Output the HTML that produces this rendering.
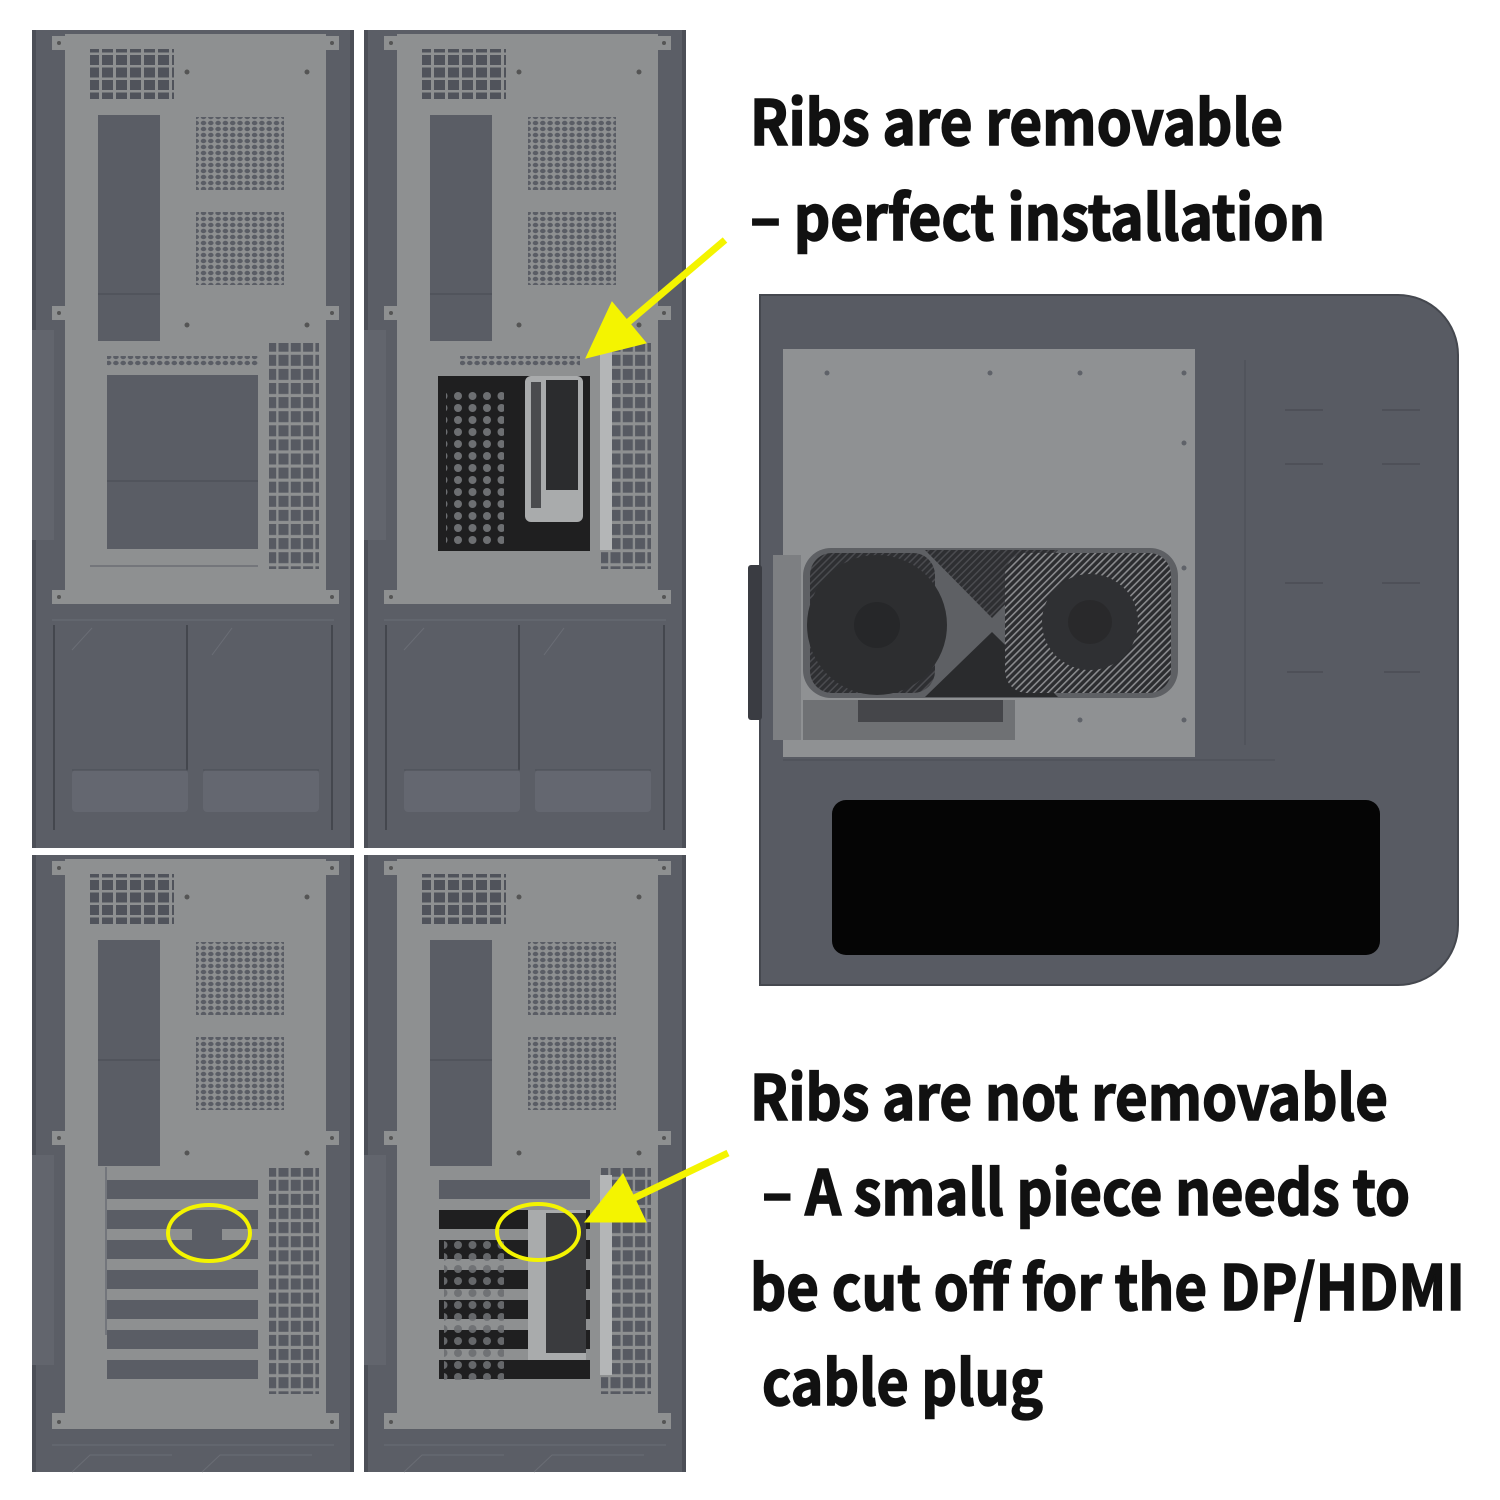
<!DOCTYPE html>
<html><head><meta charset="utf-8"><style>
html,body{margin:0;padding:0;background:#fff;}
svg{display:block}
.t{font-family:"Noto Sans CJK SC","Liberation Sans",sans-serif;font-weight:700;font-size:62px;fill:#111;stroke:#111;stroke-width:1.6px;}
</style></head><body>
<svg width="1500" height="1500" viewBox="0 0 1500 1500" xmlns="http://www.w3.org/2000/svg">
<defs>
  <pattern id="vent" x="0" y="0" width="14" height="12.5" patternUnits="userSpaceOnUse">
    <rect x="0" y="0" width="11" height="10" fill="#50535b"/>
  </pattern>
  <pattern id="holes" x="0" y="0" width="7.3" height="6" patternUnits="userSpaceOnUse">
    <ellipse cx="3.6" cy="3" rx="2.8" ry="2.2" fill="#5a5d65"/>
  </pattern>
  <pattern id="sq" x="0" y="0" width="12.3" height="14.1" patternUnits="userSpaceOnUse">
    <rect x="0.5" y="0.5" width="10" height="11" fill="#575a62"/>
  </pattern>
  <pattern id="gpuholes" x="0" y="0" width="14.5" height="12" patternUnits="userSpaceOnUse">
    <circle cx="7" cy="6" r="4" fill="#6d6f72"/>
  </pattern>
  <pattern id="hatch" width="5" height="5" patternUnits="userSpaceOnUse" patternTransform="rotate(45)">
    <rect width="5" height="5" fill="#2c2d30"/><rect width="1.6" height="5" fill="#8a8b8e"/>
  </pattern>
  <pattern id="hatchd" width="5" height="5" patternUnits="userSpaceOnUse" patternTransform="rotate(45)">
    <rect width="5" height="5" fill="#2e2f32"/><rect width="1.5" height="5" fill="#4a4b4f"/>
  </pattern>

  <g id="plateTop">
    <rect x="0" y="0" width="322" height="818" fill="#5b5e66"/>
    <rect x="0" y="0" width="4" height="818" fill="#4c4f57"/>
    <rect x="318" y="0" width="4" height="818" fill="#4c4f57"/>
    <rect x="0" y="300" width="22" height="210" fill="#62656d"/>
    <rect x="33" y="4" width="261" height="569" fill="#8e9091"/>
    <rect x="20" y="6" width="287" height="14" fill="#8e9091"/>
    <rect x="20" y="276" width="287" height="14" fill="#8e9091"/>
    <rect x="20" y="560" width="287" height="14" fill="#8e9091"/>
    <circle cx="27" cy="13" r="2" fill="#555"/><circle cx="300" cy="13" r="2" fill="#555"/>
    <circle cx="27" cy="283" r="2" fill="#555"/><circle cx="300" cy="283" r="2" fill="#555"/>
    <circle cx="27" cy="567" r="2" fill="#555"/><circle cx="300" cy="567" r="2" fill="#555"/>
    <circle cx="155" cy="42" r="2.5" fill="#555"/><circle cx="275" cy="42" r="2.5" fill="#555"/>
    <circle cx="155" cy="295" r="2.5" fill="#555"/><circle cx="275" cy="295" r="2.5" fill="#555"/>
    <rect x="58" y="19" width="84" height="50" fill="url(#vent)"/>
    <rect x="66" y="85" width="62" height="226" fill="#5a5d65"/>
    <line x1="66" y1="264" x2="128" y2="264" stroke="#484b52"/>
    <rect x="164" y="87" width="88" height="73" fill="url(#holes)"/>
    <rect x="164" y="182" width="88" height="73" fill="url(#holes)"/>
  </g>
  <g id="lowerTop">
    <line x1="20" y1="590" x2="302" y2="590" stroke="#6a6d75"/>
    <line x1="22" y1="595" x2="22" y2="800" stroke="#44474e" stroke-width="2"/>
    <line x1="300" y1="595" x2="300" y2="800" stroke="#44474e" stroke-width="2"/>
    <line x1="155" y1="595" x2="155" y2="740" stroke="#44474e" stroke-width="2"/>
    <path d="M40 620 L60 598 M180 625 L200 598" stroke="#6a6d75"/>
    <rect x="40" y="740" width="116" height="42" rx="4" fill="#646770"/>
    <rect x="171" y="740" width="116" height="42" rx="4" fill="#646770"/>
    <line x1="40" y1="740" x2="156" y2="740" stroke="#4a4d55"/>
    <line x1="171" y1="740" x2="287" y2="740" stroke="#4a4d55"/>
  </g>
  <g id="plateBot">
    <rect x="0" y="0" width="322" height="617" fill="#5b5e66"/>
    <rect x="0" y="0" width="4" height="617" fill="#4c4f57"/>
    <rect x="318" y="0" width="4" height="617" fill="#4c4f57"/>
    <rect x="0" y="300" width="22" height="210" fill="#62656d"/>
    <rect x="33" y="4" width="261" height="569" fill="#8e9091"/>
    <rect x="20" y="6" width="287" height="14" fill="#8e9091"/>
    <rect x="20" y="276" width="287" height="14" fill="#8e9091"/>
    <rect x="20" y="558" width="287" height="16" fill="#8e9091"/>
    <circle cx="27" cy="13" r="2" fill="#555"/><circle cx="300" cy="13" r="2" fill="#555"/>
    <circle cx="27" cy="283" r="2" fill="#555"/><circle cx="300" cy="283" r="2" fill="#555"/>
    <circle cx="27" cy="567" r="2" fill="#555"/><circle cx="300" cy="567" r="2" fill="#555"/>
    <circle cx="155" cy="42" r="2.5" fill="#555"/><circle cx="275" cy="42" r="2.5" fill="#555"/>
    <circle cx="155" cy="298" r="2.5" fill="#555"/><circle cx="275" cy="298" r="2.5" fill="#555"/>
    <rect x="58" y="19" width="84" height="50" fill="url(#vent)"/>
    <rect x="66" y="85" width="62" height="226" fill="#5a5d65"/>
    <line x1="66" y1="205" x2="128" y2="205" stroke="#484b52"/>
    <rect x="164" y="87" width="88" height="73" fill="url(#holes)"/>
    <rect x="164" y="182" width="88" height="73" fill="url(#holes)"/>
    <rect x="237" y="313" width="50" height="226" fill="url(#sq)"/>
    <line x1="20" y1="590" x2="302" y2="590" stroke="#6a6d75"/>
    <path d="M40 617 L58 600 H140 M170 617 L188 600 H280" stroke="#6a6d75" fill="none"/>
  </g>
</defs>

<g transform="translate(32,30)">
  <use href="#plateTop"/>
  <use href="#lowerTop"/>
  <rect x="75" y="326" width="152" height="10" fill="url(#holes)"/>
  <rect x="75" y="345" width="151" height="174" fill="#5a5d65"/>
  <line x1="75" y1="451" x2="226" y2="451" stroke="#484b52"/>
  <line x1="58" y1="536" x2="226" y2="536" stroke="#5a5d65"/>
  <rect x="237" y="313" width="50" height="226" fill="url(#sq)"/>
</g>

<g transform="translate(364,30)">
  <use href="#plateTop"/>
  <use href="#lowerTop"/>
  <rect x="96" y="326" width="120" height="10" fill="url(#holes)"/>
  <rect x="74" y="346" width="152" height="175" fill="#1f1f20"/>
  <rect x="82" y="360" width="58" height="156" fill="url(#gpuholes)"/>
  <rect x="161" y="346" width="58" height="146" rx="6" fill="#a9abac"/>
  <rect x="182" y="350" width="32" height="110" fill="#2b2c2e"/>
  <rect x="167" y="352" width="10" height="126" fill="#4a4b4e"/>
  <rect x="237" y="313" width="50" height="226" fill="url(#sq)"/>
  <rect x="236" y="320" width="12" height="200" fill="#b4b6b7"/>
</g>

<g transform="translate(32,855)">
  <use href="#plateBot"/>
  <line x1="74" y1="312" x2="74" y2="480" stroke="#6a6d75" stroke-width="1.5"/>
  <rect x="75" y="325" width="151" height="19" fill="#5a5d65"/>
  <rect x="75" y="355" width="151" height="19" fill="#5a5d65"/>
  <rect x="75" y="385" width="151" height="19" fill="#5a5d65"/>
  <rect x="160" y="374" width="30" height="11" fill="#5a5d65"/>
  <rect x="75" y="415" width="151" height="19" fill="#5a5d65"/>
  <rect x="75" y="445" width="151" height="19" fill="#5a5d65"/>
  <rect x="75" y="475" width="151" height="19" fill="#5a5d65"/>
  <rect x="75" y="505" width="151" height="19" fill="#5a5d65"/>
</g>

<g transform="translate(364,855)">
  <use href="#plateBot"/>
  <rect x="75" y="325" width="151" height="19" fill="#5a5d65"/>
  <rect x="75" y="355" width="151" height="19" fill="#1f1f20"/>
  <rect x="75" y="385" width="151" height="19" fill="#1f1f20"/>
  <rect x="75" y="415" width="151" height="19" fill="#1f1f20"/>
  <rect x="75" y="445" width="151" height="19" fill="#1f1f20"/>
  <rect x="75" y="475" width="151" height="19" fill="#1f1f20"/>
  <rect x="75" y="505" width="151" height="19" fill="#1f1f20"/>
  <rect x="80" y="385" width="60" height="140" fill="url(#gpuholes)" opacity="0.9"/>
  <rect x="164" y="355" width="58" height="150" fill="#a9abac"/>
  <rect x="182" y="358" width="40" height="140" fill="#3a3b3e"/>
  <rect x="236" y="320" width="12" height="200" fill="#b4b6b7"/>
</g>

<path d="M760 295 H1398 A60 60 0 0 1 1458 355 V925 A60 60 0 0 1 1398 985 H760 Z" fill="#585b63" stroke="#45484f" stroke-width="2"/>
<rect x="748" y="565" width="14" height="155" rx="3" fill="#3a3c42"/>
<rect x="783" y="349" width="412" height="408" fill="#8f9193"/>
<line x1="783" y1="760" x2="1275" y2="760" stroke="#4a4d55"/>
<line x1="1245" y1="360" x2="1245" y2="745" stroke="#4a4d55"/>
<g fill="#5f6269">
  <circle cx="827" cy="373" r="2.5"/><circle cx="990" cy="373" r="2.5"/><circle cx="1080" cy="373" r="2.5"/><circle cx="1184" cy="373" r="2.5"/>
  <circle cx="1184" cy="443" r="2.5"/><circle cx="1184" cy="568" r="2.5"/><circle cx="1080" cy="720" r="2.5"/><circle cx="1184" cy="720" r="2.5"/>
</g>
<g stroke="#4a4d55" stroke-width="1.5">
  <line x1="1285" y1="410" x2="1323" y2="410"/><line x1="1382" y1="410" x2="1420" y2="410"/>
  <line x1="1285" y1="464" x2="1323" y2="464"/><line x1="1382" y1="464" x2="1420" y2="464"/>
  <line x1="1285" y1="583" x2="1323" y2="583"/><line x1="1382" y1="583" x2="1420" y2="583"/>
  <line x1="1287" y1="672" x2="1323" y2="672"/><line x1="1384" y1="672" x2="1420" y2="672"/>
</g>
<rect x="832" y="800" width="548" height="155" rx="14" fill="#050505"/>

<rect x="773" y="555" width="28" height="185" fill="#7d7f82"/>
<rect x="803" y="700" width="212" height="40" fill="#6f7174"/>
<rect x="858" y="700" width="145" height="22" fill="#45464a"/>
<rect x="803" y="548" width="375" height="150" rx="28" fill="#5e6064"/>
<rect x="810" y="553" width="125" height="140" rx="22" fill="url(#hatchd)"/>
<circle cx="877" cy="625" r="70" fill="#2d2e30"/>
<circle cx="877" cy="625" r="23" fill="#262729"/>
<path d="M925 550 H1058 L992 618 Z" fill="url(#hatchd)"/>
<path d="M992 632 L925 697 H1058 Z" fill="#2a2b2d"/>
<rect x="1005" y="553" width="166" height="140" rx="22" fill="url(#hatch)"/>
<circle cx="1090" cy="622" r="48" fill="#2f3033"/>
<circle cx="1090" cy="622" r="22" fill="#29292b"/>

<g fill="#f4f400" stroke="#f4f400">
  <line x1="725" y1="240" x2="625" y2="325" stroke-width="7"/>
  <polygon points="586,358 646,343 612,302" stroke-width="1"/>
  <line x1="728" y1="1153" x2="630" y2="1200" stroke-width="7"/>
  <polygon points="585,1222 646,1222 623,1174" stroke-width="1"/>
</g>
<ellipse cx="209" cy="1233" rx="41" ry="28" fill="none" stroke="#f4f400" stroke-width="4"/>
<ellipse cx="538" cy="1232" rx="41" ry="28" fill="none" stroke="#f4f400" stroke-width="4"/>

<text class="t" x="750" y="145" textLength="533" lengthAdjust="spacingAndGlyphs">Ribs are removable</text>
<text class="t" x="750" y="240" textLength="575" lengthAdjust="spacingAndGlyphs">– perfect installation</text>
<text class="t" x="750" y="1120" textLength="638" lengthAdjust="spacingAndGlyphs">Ribs are not removable</text>
<text class="t" x="762" y="1215" textLength="648" lengthAdjust="spacingAndGlyphs">– A small piece needs to</text>
<text class="t" x="750" y="1310" textLength="715" lengthAdjust="spacingAndGlyphs">be cut off for the DP/HDMI</text>
<text class="t" x="762" y="1405" textLength="281" lengthAdjust="spacingAndGlyphs">cable plug</text>
</svg>
</body></html>
